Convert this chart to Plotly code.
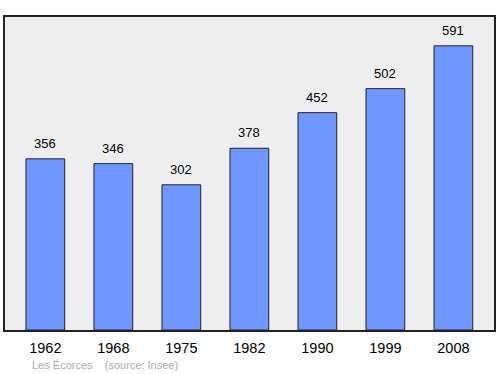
import plotly.graph_objects as go

years = ["1962", "1968", "1975", "1982", "1990", "1999", "2008"]
population = [356, 346, 302, 378, 452, 502, 591]

x = list(range(len(years)))
FONT = "Liberation Sans, Arial, sans-serif"

fig = go.Figure()
fig.add_trace(go.Bar(
    x=x, y=population, width=0.57,
    marker=dict(color="#7097ff", line=dict(color="#222222", width=1)),
    hoverinfo="skip",
))

for xi, v in zip(x, population):
    fig.add_annotation(x=xi, y=v, text=str(v), showarrow=False,
                       yanchor="bottom", yshift=6,
                       font=dict(family=FONT, size=13, color="#000000"))

fig.add_annotation(xref="paper", yref="paper", x=0.051, y=-0.085, xanchor="left", yanchor="top",
                   text="Les Écorces &nbsp;&nbsp; (source: Insee)", showarrow=False,
                   font=dict(family=FONT, size=11, color="#aaaaaa"))

fig.update_layout(
    width=500, height=374,
    margin=dict(l=5, r=4, t=17, b=44),
    paper_bgcolor="white", plot_bgcolor="#eeeeee",
    showlegend=False,
    xaxis=dict(range=[-0.593, 6.597], tickmode="array", tickvals=x, ticktext=years,
               showgrid=False, zeroline=False, showline=True, linecolor="#222222", linewidth=1.5,
               mirror=True, ticks="", ticklabelstandoff=4,
               tickfont=dict(family=FONT, size=14.5, color="#000")),
    yaxis=dict(range=[0, 651], showgrid=False, zeroline=False, showticklabels=False,
               showline=True, linecolor="#222222", linewidth=1.5, mirror=True, ticks=""),
)

fig.write_html("out.html")
